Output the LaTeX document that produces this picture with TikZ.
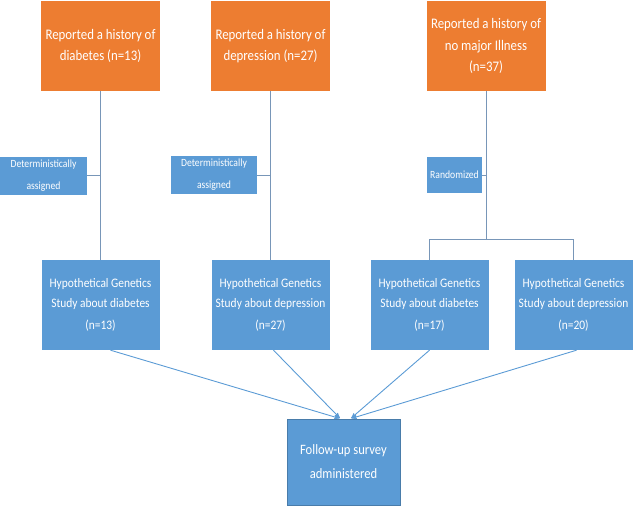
\documentclass[tikz,border=0pt]{standalone}
\usepackage{fontspec}
\setmainfont{Carlito}[FakeStretch=0.88]
\usepackage{tikz}
\usetikzlibrary{arrows,positioning}

\definecolor{boxorange}{HTML}{ED7D31}
\definecolor{boxblue}{HTML}{5B9BD5}
\definecolor{linegray}{HTML}{7896B8}

\tikzset{
  group/.style={fill=boxorange, text=white, align=center, minimum width=119pt,
    minimum height=90pt, inner sep=2pt, font=\fontsize{14.6}{21.5}\selectfont},
  study/.style={fill=boxblue, text=white, align=center, minimum width=118pt,
    minimum height=90pt, inner sep=2pt, font=\fontsize{13}{19.5}\selectfont},
  assign/.style={fill=boxblue, text=white, align=center, minimum height=38pt,
    inner sep=2pt, font=\fontsize{11}{22}\selectfont},
  survey/.style={fill=boxblue, draw=boxblue!80!black, line width=0.6pt, text=white,
    align=center, minimum width=113pt, minimum height=86pt,
    font=\fontsize{14.3}{24}\selectfont},
  link/.style={draw=linegray, line width=0.8pt},
  flow/.style={draw=boxblue, line width=0.9pt, ->, shorten >=1pt}
}

\begin{document}
\begin{tikzpicture}[x=1pt,y=1pt,>=stealth',auto,node distance=170pt]
  \useasboundingbox (0,0) rectangle (634,-508);

        \node[group]  (o1)  at (100.5,-46)  {Reported a history of\\diabetes (n=13)};
        \node[group]  (o2)  [right of=o1]  {Reported a history of\\depression (n=27)};
        \node[group]  (o3)  [right of=o2, node distance=215.5pt]  {Reported a history of\\no major Illness\\(n=37)};

        \node[assign, minimum width=87pt] (d1) at (43.5,-175.5) {Deterministically\\assigned};
        \node[assign, minimum width=86pt] (d2) at (214,-175) {Deterministically\\assigned};
        \node[assign, minimum width=55pt, minimum height=36pt] (rnd) at (454.5,-175) {Randomized};

        \node[study]  (b1)  [below of=o1, node distance=259pt]  {Hypothetical Genetics\\Study about diabetes\\[3pt](n=13)};
        \node[study]  (b2)  [below of=o2, node distance=259pt]  {Hypothetical Genetics\\Study about depression\\[3pt](n=27)};
        \node[study]  (b3)  at (429.5,-305)  {Hypothetical Genetics\\Study about diabetes\\[3pt](n=17)};
        \node[study]  (b4)  [right of=b3, node distance=144pt]  {Hypothetical Genetics\\Study about depression\\[3pt](n=20)};

        \node[survey] (fu)  at (343.5,-462)  {Follow-up survey\\administered};

        \coordinate (split) at (o3.south |- 0,-239);

        \path[link]
                 (o1.south) edge (b1.north)
                 (o2.south) edge (b2.north)
                 (d1.east) edge (d1.east -| o1.south)
                 (d2.east) edge (d2.east -| o2.south)
                 (rnd.east) edge (rnd.east -| o3.south)
                 (o3.south) edge (split)
                 (split -| b3.north) edge (split -| b4.north)
                 (split -| b3.north) edge (b3.north)
                 (split -| b4.north) edge (b4.north)
                 ;

        \draw[flow] ([xshift=10pt]b1.south) -- ([xshift=-3pt]fu.north);
        \draw[flow] ([xshift=3pt]b2.south) -- ([xshift=-3pt]fu.north);
        \draw[flow] (b3.south) -- ([xshift=7pt]fu.north);
        \draw[flow] ([xshift=3pt]b4.south) -- ([xshift=7pt]fu.north);
\end{tikzpicture}
\end{document}
